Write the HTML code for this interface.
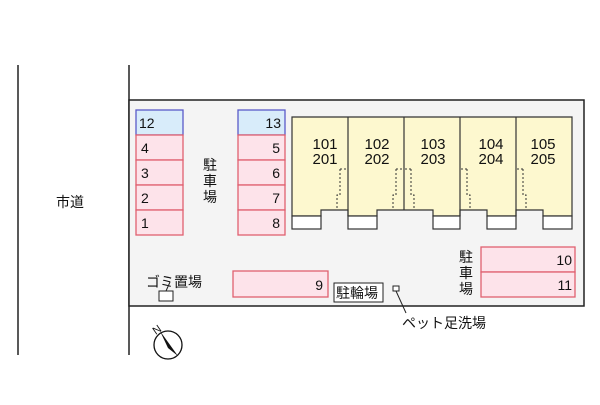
<!DOCTYPE html>
<html><head><meta charset="utf-8"><style>
body{margin:0;background:#fff}
text{font-family:"Liberation Sans","Noto Sans CJK JP",sans-serif;fill:#111}
</style></head><body>
<svg width="600" height="400" xmlns="http://www.w3.org/2000/svg">
<line x1="18" y1="65" x2="18" y2="355" stroke="#222" stroke-width="1.5"/>
<line x1="129" y1="65" x2="129" y2="355" stroke="#222" stroke-width="1.5"/>
<rect x="129" y="100" width="455" height="206" fill="#f4f4f4" stroke="#222" stroke-width="1.5"/>
<text x="70" y="207" font-size="14" text-anchor="middle">市道</text>
<g stroke-width="1.3">
<rect x="136" y="110" width="47" height="25" fill="#d8ecfa" stroke="#5a5ac8"/>
<rect x="136" y="135" width="47" height="25" fill="#fde3ea" stroke="#e06070"/>
<rect x="136" y="160" width="47" height="25" fill="#fde3ea" stroke="#e06070"/>
<rect x="136" y="185" width="47" height="25" fill="#fde3ea" stroke="#e06070"/>
<rect x="136" y="210" width="47" height="25" fill="#fde3ea" stroke="#e06070"/>
<rect x="238" y="110" width="47" height="25" fill="#d8ecfa" stroke="#5a5ac8"/>
<rect x="238" y="135" width="47" height="25" fill="#fde3ea" stroke="#e06070"/>
<rect x="238" y="160" width="47" height="25" fill="#fde3ea" stroke="#e06070"/>
<rect x="238" y="185" width="47" height="25" fill="#fde3ea" stroke="#e06070"/>
<rect x="238" y="210" width="47" height="25" fill="#fde3ea" stroke="#e06070"/>
<rect x="233" y="271" width="95" height="26" fill="#fde3ea" stroke="#e06070"/>
<rect x="481" y="247" width="94" height="25" fill="#fde3ea" stroke="#e06070"/>
<rect x="481" y="272" width="94" height="25" fill="#fde3ea" stroke="#e06070"/>
</g>
<g font-size="14">
<text x="139" y="128">12</text><text x="141" y="153">4</text><text x="141" y="178">3</text><text x="141" y="203">2</text><text x="141" y="228">1</text>
<g text-anchor="end"><text x="281" y="128">13</text><text x="280" y="153">5</text><text x="280" y="178">6</text><text x="280" y="203">7</text><text x="280" y="228">8</text>
<text x="323" y="290">9</text><text x="572" y="265">10</text><text x="572" y="290">11</text></g>
</g>
<g font-size="14" text-anchor="middle"><text x="210" y="170">駐</text><text x="210" y="186">車</text><text x="210" y="202">場</text>
<text x="466" y="262">駐</text><text x="466" y="278">車</text><text x="466" y="294">場</text></g>
<!-- building -->
<path d="M292 117H572V216H543V210H516V216H487V210H460V216H433V210H377V216H348V210H321V216H292Z" fill="#fdf8cf" stroke="#333" stroke-width="1.2"/>
<g fill="#fff" stroke="#333" stroke-width="1.2">
<rect x="292" y="216" width="29" height="13"/><rect x="348" y="216" width="29" height="13"/><rect x="433" y="216" width="27" height="13"/><rect x="487" y="216" width="29" height="13"/><rect x="543" y="216" width="29" height="13"/></g>
<g stroke="#333" stroke-width="1.2">
<line x1="348" y1="117" x2="348" y2="216"/><line x1="404" y1="117" x2="404" y2="210"/><line x1="460" y1="117" x2="460" y2="216"/><line x1="516" y1="117" x2="516" y2="216"/></g>
<g fill="none" stroke="#333" stroke-dasharray="2,2" stroke-width="1">
<path d="M340 169H347M340 169V195H337V210"/><path d="M396 169H403M396 169V195H393V210"/>
<path d="M411 169H405M411 169V195H414V210"/><path d="M467 169H461M467 169V195H470V210"/><path d="M523 169H517M523 169V195H526V210"/></g>
<g font-size="15" text-anchor="middle">
<text x="325" y="149">101</text><text x="325" y="164">201</text>
<text x="377" y="149">102</text><text x="377" y="164">202</text>
<text x="433" y="149">103</text><text x="433" y="164">203</text>
<text x="491" y="149">104</text><text x="491" y="164">204</text>
<text x="543" y="149">105</text><text x="543" y="164">205</text></g>
<text x="146" y="287" font-size="14">ゴミ置場</text>
<rect x="159" y="291" width="14" height="10" fill="#fff" stroke="#222"/>
<line x1="166" y1="291" x2="170" y2="282" stroke="#222"/>
<rect x="334" y="283" width="49" height="19" fill="#fff" stroke="#222"/>
<text x="336" y="298" font-size="14">駐輪場</text>
<rect x="393" y="286" width="6" height="5" fill="#fff" stroke="#222"/>
<line x1="396" y1="291" x2="406" y2="313" stroke="#222"/>
<text x="402" y="328" font-size="14">ペット足洗場</text>
<circle cx="168" cy="345" r="14" fill="#fff" stroke="#111" stroke-width="1.3"/>
<polygon points="160,331 178,356 168,348" fill="#111"/>
<text x="152" y="333" font-size="11" transform="rotate(-35 157 328)">N</text>
</svg>
</body></html>
